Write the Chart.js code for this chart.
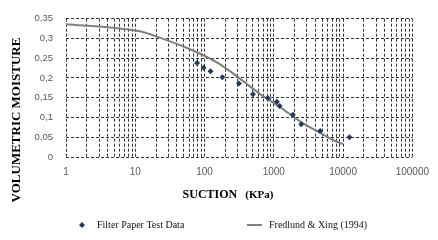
<!DOCTYPE html>
<html>
<head>
<meta charset="utf-8">
<script src="https://cdn.jsdelivr.net/npm/chart.js@4"></script>
<style>
  html, body { margin: 0; padding: 0; background: #fff; }
  canvas { display: block; }
</style>
</head>
<body>
<canvas id="chart" width="438" height="240"></canvas>
<script>
// Filter paper measurements (suction in kPa, volumetric moisture)
const suctionData = [78, 97, 122, 181, 314, 500, 822, 1109, 1213, 1884, 2490, 4677, 12370];
const moistureData = [0.238, 0.226, 0.217, 0.202, 0.186, 0.159, 0.149, 0.140, 0.129, 0.107, 0.083, 0.066, 0.050];

// Fredlund & Xing (1994) fitted curve
const fitSuction = [1, 6, 11.7, 22.6, 44, 85, 166, 321, 624, 1213, 2355, 4575, 8870, 10000];
const fitMoisture = [0.336, 0.325, 0.318, 0.302, 0.283, 0.262, 0.235, 0.199, 0.160, 0.127, 0.091, 0.062, 0.036, 0.033];

const xTickValues = [1, 10, 100, 1000, 10000, 100000];
const yTickValues = [0, 0.05, 0.1, 0.15, 0.2, 0.25, 0.3, 0.35];

const seriesNames = ['Filter Paper Test Data', 'Fredlund & Xing (1994)'];
const pointColor = '#1f3864';
const lineColor = '#808080';
const gridColor = '#333333';

// gridlines at every 1..9 x 10^k
function logGridValues() {
    const out = [];
    for (let k = 0; k < xTickValues.length - 1; k++) {
        for (let m = 1; m < 10; m++) out.push(m * xTickValues[k]);
    }
    out.push(xTickValues[xTickValues.length - 1]);
    return out;
}

const titlesAndLegend = {
    id: 'titlesAndLegend',
    afterDraw(chart) {
        const ctx = chart.ctx;
        ctx.save();
        ctx.fillStyle = '#000';
        ctx.textBaseline = 'alphabetic';

        // x axis title
        ctx.font = 'bold 12px "Liberation Serif", serif';
        const w1 = ctx.measureText('SUCTION').width;
        ctx.font = 'bold 11px "Liberation Serif", serif';
        const w2 = ctx.measureText('(KPa)').width;
        const gap = 8;
        let x = 228 - (w1 + gap + w2) / 2;
        ctx.font = 'bold 12px "Liberation Serif", serif';
        ctx.textAlign = 'left';
        ctx.fillText('SUCTION', x, 198);
        ctx.font = 'bold 11px "Liberation Serif", serif';
        ctx.fillText('(KPa)', x + w1 + gap, 198);

        // y axis title
        ctx.save();
        ctx.translate(20, 120);
        ctx.rotate(-Math.PI / 2);
        ctx.font = 'bold 13px "Liberation Serif", serif';
        ctx.textAlign = 'center';
        ctx.fillText('VOLUMETRIC MOISTURE', 0, 0);
        ctx.restore();

        // legend
        ctx.font = '10px "Liberation Serif", serif';
        ctx.textAlign = 'left';
        ctx.fillStyle = pointColor;
        ctx.beginPath();
        ctx.moveTo(82, 222);
        ctx.lineTo(85, 225);
        ctx.lineTo(82, 228);
        ctx.lineTo(79, 225);
        ctx.closePath();
        ctx.fill();
        ctx.fillStyle = '#111';
        ctx.fillText(seriesNames[0], 97, 228);

        ctx.strokeStyle = lineColor;
        ctx.lineWidth = 2;
        ctx.beginPath();
        ctx.moveTo(247, 225);
        ctx.lineTo(262, 225);
        ctx.stroke();
        ctx.fillText(seriesNames[1], 269, 228);
        ctx.restore();
    }
};

const config = {
    type: 'scatter',
    data: {
        datasets: [
            {
                label: seriesNames[1],
                data: fitSuction.map((s, i) => ({ x: s, y: fitMoisture[i] })),
                showLine: true,
                borderColor: lineColor,
                borderWidth: 2,
                pointRadius: 0,
                cubicInterpolationMode: 'monotone',
                order: 2
            },
            {
                label: seriesNames[0],
                data: suctionData.map((s, i) => ({ x: s, y: moistureData[i] })),
                pointStyle: 'rectRot',
                pointRadius: 3,
                backgroundColor: pointColor,
                borderColor: pointColor,
                borderWidth: 0,
                order: 1
            }
        ]
    },
    options: {
        responsive: false,
        animation: false,
        layout: { padding: { top: 10, right: 25, left: 0, bottom: 0 } },
        plugins: {
            legend: { display: false },
            tooltip: { enabled: false }
        },
        scales: {
            x: {
                type: 'logarithmic',
                min: 1,
                max: 100000,
                afterBuildTicks: scale => {
                    scale.ticks = logGridValues().map(v => ({ value: v }));
                },
                afterFit: scale => { scale.height = 83; },
                grid: { color: gridColor, lineWidth: 1, drawTicks: false },
                border: { display: false, dash: [3, 2] },
                ticks: {
                    autoSkip: false,
                    maxRotation: 0,
                    padding: 9,
                    color: '#595959',
                    font: { family: '"Liberation Sans", sans-serif', size: 10 },
                    callback: value => xTickValues.includes(value) ? String(value) : ''
                }
            },
            y: {
                min: 0,
                max: 0.35,
                afterBuildTicks: scale => {
                    scale.ticks = yTickValues.map(v => ({ value: v }));
                },
                afterFit: scale => { scale.width = 66; },
                grid: { color: gridColor, lineWidth: 1, drawTicks: false },
                border: { display: false, dash: [3, 2] },
                ticks: {
                    padding: 13,
                    color: '#595959',
                    font: { family: '"Liberation Sans", sans-serif', size: 9.5 },
                    callback: value => value === 0 ? '0' : String(+value.toFixed(2)).replace('.', ',')
                }
            }
        }
    },
    plugins: [titlesAndLegend]
};

new Chart(document.getElementById('chart').getContext('2d'), config);
</script>
</body>
</html>
